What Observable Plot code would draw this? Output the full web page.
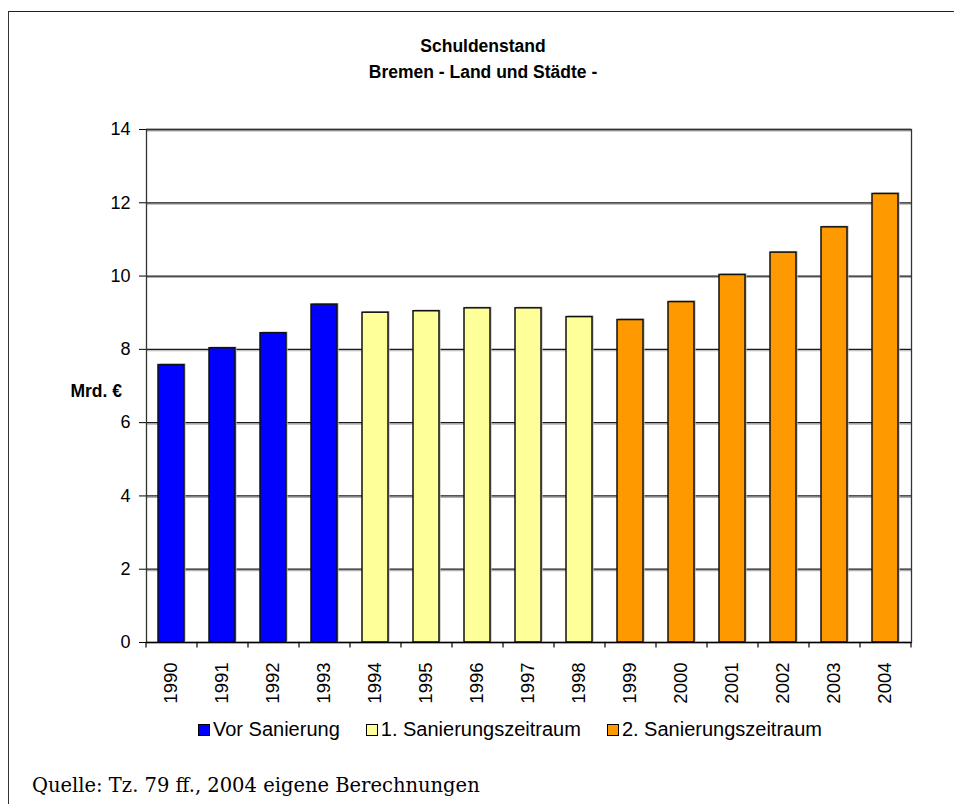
<!DOCTYPE html>
<html>
<head>
<meta charset="utf-8">
<script src="https://cdn.jsdelivr.net/npm/d3@7"></script>
<script src="https://cdn.jsdelivr.net/npm/@observablehq/plot@0.6"></script>
<style>
  body { margin: 0; background: #fff; font-family: "Liberation Sans", Arial, sans-serif; }
  #wrap { position: relative; width: 954px; height: 804px; overflow: hidden; background: #fff; }
  #border { position: absolute; left: 8px; top: 11px; width: 1000px; height: 900px;
            border-left: 1.5px solid #333; border-top: 1.5px solid #222; z-index: 5; pointer-events: none; }
  #title { position: absolute; top: 33px; left: 0; width: 966px; text-align: center;
           font-weight: bold; font-size: 17.5px; line-height: 26px; color: #000; }
  #plot { position: absolute; top: 100px; left: 0; }
  #ylab { position: absolute; top: 381px; left: 20px; width: 102px; text-align: right;
          font-weight: bold; font-size: 17.5px; color: #000; }
  #legend { position: absolute; top: 718px; left: 198px; display: flex;
            font-size: 20px; color: #000; }
  #legend .item { display: flex; align-items: center; gap: 3px; margin-right: 26px; }
  #legend .sw { width: 12px; height: 12px; border: 1.5px solid #000; box-sizing: border-box; }
  #caption { position: absolute; left: 32px; top: 774px; font-family: "DejaVu Serif", serif;
             font-size: 19.5px; color: #000; }
</style>
</head>
<body>
<div id="wrap">
  <div id="border"></div>
  <div id="title">Schuldenstand<br>Bremen - Land und Städte -</div>
  <div id="plot"></div>
  <div id="ylab">Mrd. €</div>
  <div id="legend"></div>
  <div id="caption">Quelle: Tz. 79 ff., 2004 eigene Berechnungen</div>
</div>
<script>
// ---- data ----
const years = ["1990","1991","1992","1993","1994","1995","1996","1997","1998","1999","2000","2001","2002","2003","2004"];
const values = [7.57, 8.03, 8.44, 9.22, 9.00, 9.04, 9.12, 9.12, 8.88, 8.80, 9.29, 10.03, 10.64, 11.33, 12.24];
const periods = ["Vor Sanierung","Vor Sanierung","Vor Sanierung","Vor Sanierung",
  "1. Sanierungszeitraum","1. Sanierungszeitraum","1. Sanierungszeitraum","1. Sanierungszeitraum","1. Sanierungszeitraum",
  "2. Sanierungszeitraum","2. Sanierungszeitraum","2. Sanierungszeitraum","2. Sanierungszeitraum","2. Sanierungszeitraum","2. Sanierungszeitraum"];
const seriesNames = ["Vor Sanierung", "1. Sanierungszeitraum", "2. Sanierungszeitraum"];
const seriesColors = ["#0000FF", "#FFFF99", "#FF9900"];
const yTicks = [0, 2, 4, 6, 8, 10, 12, 14];

const data = years.map((y, i) => ({year: y, value: values[i], period: periods[i]}));

const W = 954, H = 620;
const mL = 146, mR = 43;
const step = (W - mL - mR) / years.length;

const chart = Plot.plot({
  width: W,
  height: H,
  marginLeft: mL,
  marginRight: mR,
  marginTop: 29,
  marginBottom: 78,
  style: {fontFamily: "'Liberation Sans', Arial, sans-serif", fontSize: "18px", color: "#000", background: "transparent"},
  x: {domain: years, paddingInner: 0.49, paddingOuter: 0.245, axis: null},
  y: {domain: [0, 14], axis: null},
  color: {domain: seriesNames, range: seriesColors},
  marks: [
    // gridlines with a light shadow
    Plot.ruleY(yTicks.filter(d => d > 0), {stroke: "#b0b0b0", strokeWidth: 1.2, dy: 1.4}),
    Plot.ruleY(yTicks.filter(d => d > 0), {stroke: "#1a1a1a", strokeWidth: 1.3}),
    // bar shadow
    Plot.barY(data, {x: "year", y: "value", fill: "#bbb", dx: 1.6, dy: -1.2}),
    // bars
    Plot.barY(data, {x: "year", y: "value", fill: "period", stroke: "#111", strokeWidth: 1.5}),
    // plot area frame
    Plot.frame({stroke: "#333", strokeWidth: 1.3}),
    Plot.ruleY([0], {stroke: "#000", strokeWidth: 1.5}),
    // x ticks at category boundaries
    Plot.ruleX(years, {x: d => d, y1: 0, y2: -0.15, dx: -step / 2, stroke: "#000", strokeWidth: 1.2}),
    Plot.ruleX(years.slice(-1), {x: d => d, y1: 0, y2: -0.15, dx: step / 2, stroke: "#000", strokeWidth: 1.2}),
    Plot.axisY({ticks: yTicks, tickSize: 7, tickPadding: 9, label: null, fontSize: 18, stroke: "#000"}),
    Plot.axisX({tickSize: 0, tickRotate: -90, tickPadding: 20, label: null, fontSize: 18.5})
  ]
});
document.getElementById("plot").appendChild(chart);

// legend
const leg = document.getElementById("legend");
seriesNames.forEach((n, i) => {
  const it = document.createElement("div");
  it.className = "item";
  const sw = document.createElement("div");
  sw.className = "sw";
  sw.style.background = seriesColors[i];
  const t = document.createElement("span");
  t.textContent = n;
  it.appendChild(sw); it.appendChild(t);
  leg.appendChild(it);
});
</script>
</body>
</html>
